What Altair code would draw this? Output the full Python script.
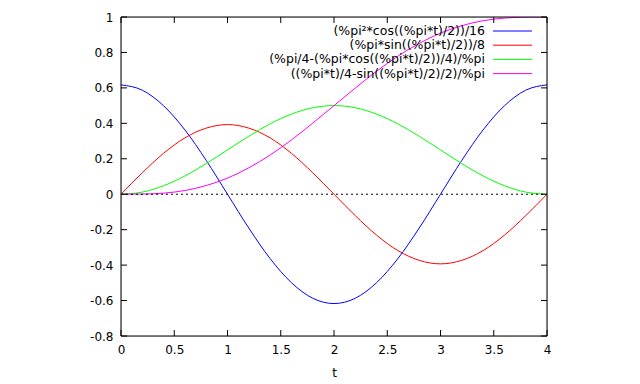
import altair as alt
import pandas as pd

t_vals = [0.0, 0.2, 0.4, 0.6, 0.8, 1.0, 1.2, 1.4, 1.6, 1.8, 2.0,
          2.2, 2.4, 2.6, 2.8, 3.0, 3.2, 3.4, 3.6, 3.8, 4.0]
blue_vals = [0.617, 0.587, 0.499, 0.363, 0.191, 0.0, -0.191, -0.363, -0.499, -0.587, -0.617,
             -0.587, -0.499, -0.363, -0.191, 0.0, 0.191, 0.363, 0.499, 0.587, 0.617]
red_vals = [0.0, 0.121, 0.231, 0.318, 0.373, 0.393, 0.373, 0.318, 0.231, 0.121, 0.0,
            -0.121, -0.231, -0.318, -0.373, -0.393, -0.373, -0.318, -0.231, -0.121, 0.0]
green_vals = [0.0, 0.012, 0.048, 0.103, 0.173, 0.25, 0.327, 0.397, 0.452, 0.488, 0.5,
              0.488, 0.452, 0.397, 0.327, 0.25, 0.173, 0.103, 0.048, 0.012, 0.0]
magenta_vals = [0.0, 0.001, 0.006, 0.021, 0.049, 0.091, 0.149, 0.221, 0.306, 0.401, 0.5,
                0.599, 0.694, 0.779, 0.851, 0.909, 0.951, 0.979, 0.994, 0.999, 1.0]

series_names = [
    "(%pi²*cos((%pi*t)/2))/16",
    "(%pi*sin((%pi*t)/2))/8",
    "(%pi/4-(%pi*cos((%pi*t)/2))/4)/%pi",
    "((%pi*t)/4-sin((%pi*t)/2)/2)/%pi",
]
series_colors = ["#0000ff", "#ff0000", "#00ff00", "#ff00ff"]
x_ticks = [0, 0.5, 1, 1.5, 2, 2.5, 3, 3.5, 4]
y_ticks = [-0.8, -0.6, -0.4, -0.2, 0, 0.2, 0.4, 0.6, 0.8, 1]

W, H = 426, 319
FONT = "DejaVu Sans"
FS = 12

rows = []
for name, vals in zip(series_names, [blue_vals, red_vals, green_vals, magenta_vals]):
    for t, v in zip(t_vals, vals):
        rows.append({"t": t, "value": v, "series": name})
df = pd.DataFrame(rows)

xscale = alt.Scale(domain=[0, 4], nice=False, zero=False)
yscale = alt.Scale(domain=[-0.8, 1], nice=False, zero=False)

x_axis = alt.Axis(values=x_ticks, ticks=False, domain=False, grid=False,
                  labelFont=FONT, labelFontSize=FS, labelColor="black",
                  labelPadding=8, labelFlush=False, labelOverlap=False,
                  titleFont=FONT, titleFontSize=FS,
                  titleFontWeight="normal", titleColor="black", titlePadding=12,
                  labelExpr="toString(datum.value)")
y_axis = alt.Axis(values=y_ticks, ticks=False, domain=False, grid=False,
                  labelFont=FONT, labelFontSize=FS, labelColor="black",
                  labelPadding=8, labelFlush=False, labelOverlap=False,
                  labelExpr="toString(datum.value)")


def X(field):
    return alt.X(field, scale=xscale, title="t", axis=x_axis)


def Y(field):
    return alt.Y(field, scale=yscale, title=None, axis=y_axis)


lines = alt.Chart(df).mark_line(strokeWidth=1, clip=True, interpolate="monotone").encode(
    x=X("t:Q"),
    y=Y("value:Q"),
    color=alt.Color("series:N", scale=alt.Scale(domain=series_names, range=series_colors),
                    legend=None),
    detail="series:N",
)

zero_line = alt.Chart(pd.DataFrame({"value": [0]})).mark_rule(
    color="black", strokeWidth=1, strokeDash=[2, 3]
).encode(y=Y("value:Q"), x=alt.value(0), x2=alt.value(W))

xt = pd.DataFrame({"t": x_ticks})
yt = pd.DataFrame({"value": y_ticks})
tick_len = 6
tb = alt.Chart(xt).mark_rule(color="black", strokeWidth=1).encode(
    x=X("t:Q"), y=alt.value(H), y2=alt.value(H - tick_len))
tt = alt.Chart(xt).mark_rule(color="black", strokeWidth=1).encode(
    x=X("t:Q"), y=alt.value(0), y2=alt.value(tick_len))
tl = alt.Chart(yt).mark_rule(color="black", strokeWidth=1).encode(
    y=Y("value:Q"), x=alt.value(0), x2=alt.value(tick_len))
tr = alt.Chart(yt).mark_rule(color="black", strokeWidth=1).encode(
    y=Y("value:Q"), x=alt.value(W), x2=alt.value(W - tick_len))

frame = alt.Chart(pd.DataFrame({"a": [0]})).mark_rect(
    fill=None, fillOpacity=0, stroke="black", strokeWidth=1
).encode(x=alt.value(0), x2=alt.value(W), y=alt.value(0), y2=alt.value(H))

legend_layers = []
for i, (name, col) in enumerate(zip(series_names, series_colors)):
    ry = 14 + 14.2 * i
    legend_layers.append(
        alt.Chart(pd.DataFrame({"label": [name]})).mark_text(
            align="right", baseline="middle", font=FONT, fontSize=12.5, color="black"
        ).encode(text="label:N", x=alt.value(364), y=alt.value(ry))
    )
    legend_layers.append(
        alt.Chart(pd.DataFrame({"c": [col]})).mark_rule(color=col, strokeWidth=1).encode(
            x=alt.value(372), x2=alt.value(411), y=alt.value(ry))
    )

chart = alt.layer(lines, zero_line, tb, tt, tl, tr, frame, *legend_layers).properties(
    width=W, height=H,
    autosize=alt.AutoSizeParams(type="none"),
    padding={"left": 113, "top": 9, "right": 85, "bottom": 48},
).configure_view(stroke=None).configure(background="white")

chart.save("out.html", embed_options={"renderer": "svg", "actions": False})
